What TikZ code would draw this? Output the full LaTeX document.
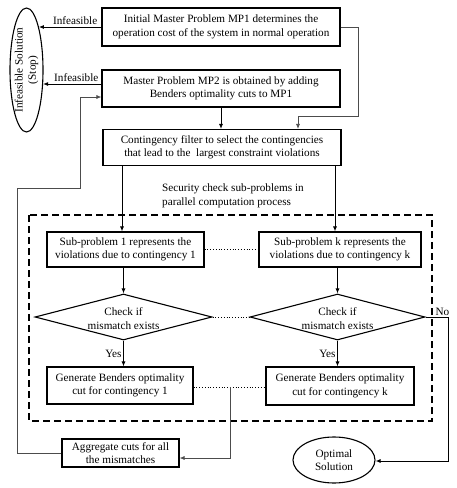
\documentclass[tikz,border=0pt]{standalone}
\usepackage{fontspec}
\setmainfont{Liberation Serif}
\usetikzlibrary{shapes.geometric,arrows.meta}
\begin{document}
\begin{tikzpicture}[x=1pt,y=-1pt,
  txt/.style={font=\fontsize{11.2}{13.4}\selectfont, align=center, inner sep=0pt},
  box/.style={txt, draw, line width=1.1pt},
  dia/.style={draw, diamond, line width=1.1pt, inner sep=0pt},
  oval/.style={draw, ellipse, line width=1.1pt, inner sep=0pt},
  arr/.style={line width=0.9pt, -{Latex[length=5pt,width=4pt]}},
  thinarr/.style={line width=0.7pt, draw=black!70, -{Latex[length=5pt,width=4pt]}},
  dots/.style={line width=0.8pt, dotted},
  lab/.style={font=\fontsize{11.2}{13.4}\selectfont, inner sep=1.5pt}
]
\useasboundingbox (0,0) rectangle (457,488);

% nodes
\node[box, minimum width=238, minimum height=38] (mp1) at (221,27) {Initial Master Problem MP1 determines the\\operation cost of the system in normal operation};
\node[box, minimum width=238, minimum height=37] (mp2) at (221,88.5) {Master Problem MP2 is obtained by adding\\Benders optimality cuts to MP1};
\node[box, minimum width=238, minimum height=36] (filt) at (222,147.5) {Contingency filter to select the contingencies\\that lead to the\ \ largest constraint violations};
\node[oval, minimum width=33, minimum height=124] (inf) at (26.5,70) {};
\node[txt, rotate=90] (inft) at (inf) {Infeasible Solution\\(Stop)};

\node[txt, align=left, anchor=north west] (sec) at (162,184) {Security check sub-problems in\\parallel computation process};
\draw[line width=1.4pt, dash pattern=on 7pt off 4pt] (29,215) rectangle (432,421);

\node[box, minimum width=157, minimum height=35] (sub1) at (125.5,249.5) {Sub-problem 1 represents the\\violations due to contingency 1};
\node[box, minimum width=162, minimum height=35] (subk) at (340,249.5) {Sub-problem k represents the\\violations due to contingency k};

\node[dia, minimum width=177, minimum height=46] (d1) at (123.5,317) {};
\node[txt] (d1t) at (123.5,318.5) {Check if\\mismatch exists};
\node[dia, minimum width=175, minimum height=46] (dk) at (337.5,317) {};
\node[txt] (dkt) at (337.5,318.5) {Check if\\mismatch exists};

\node[box, minimum width=146, minimum height=37] (g1) at (120,385.5) {Generate Benders optimality\\cut for contingency 1};
\node[box, minimum width=148, minimum height=38] (gk) at (340,386) {Generate Benders optimality\\cut for contingency k};

\node[box, minimum width=117, minimum height=28] (agg) at (120.5,453) {Aggregate cuts for all\\the mismatches};
\node[oval, txt, draw, line width=1.1pt, minimum width=82, minimum height=46] (opt) at (334,460) {Optimal\\Solution};

% infeasible arrows
\draw[arr] (mp1.west) -- (inf.74.5 |- mp1.west) node[lab, midway, above, xshift=5pt] (l1) {Infeasible};
\coordinate (m2o) at (mp2.west |- 0,84);
\draw[arr] (m2o) -- (inf.-41 |- m2o) node[lab, midway, above, xshift=4pt] (l2) {Infeasible};

% main flow
\draw[arr] (mp2.south) -- (mp2.south |- filt.north);
\draw[thinarr] (mp1.east) -- (358,27) -- (358,116) -- (298,116) -- (filt.north -| 298,116);
\draw[arr] (filt.south -| 122,0) -- (sub1.north -| 122,0);
\draw[arr] (filt.south -| 335,0) -- (subk.north -| 335,0);

\draw[arr] (sub1.south -| d1.north) -- (d1.north);
\draw[arr] (subk.south -| dk.north) -- (dk.north);

\draw[arr] (d1.south) -- (d1.south |- g1.north) node[lab, midway, anchor=east] (y1) {Yes};
\draw[arr] (dk.south) -- (dk.south |- gk.north) node[lab, midway, anchor=east] (yk) {Yes};

% dotted links
\draw[dots] (sub1.east) -- (subk.west);
\draw[dots] (d1.east) -- (dk.west);
\coordinate (j) at (230,387);
\draw[dots] (g1.east |- j) -- (j) -- (gk.west |- j);

% aggregate
\draw[thinarr] (j) -- (230,458) -- (agg.east |- 0,458);
\draw[thinarr] (agg.west) -- (17,453) -- (17,188) -- (80,188) -- (80,97) -- (mp2.west |- 0,97);

% no
\draw[arr] (dk.east) -- (448,317) -- (448,461) -- (opt.east |- 0,461);
\node[lab, anchor=south] (no) at (442.5,317) {No};
\end{tikzpicture}
\end{document}
